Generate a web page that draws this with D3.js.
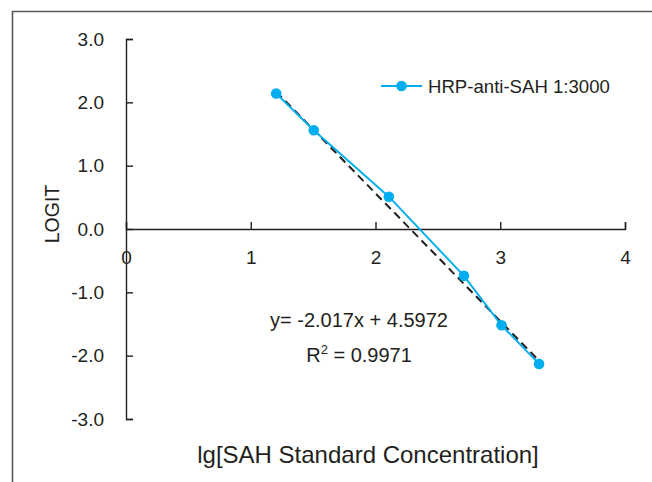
<!DOCTYPE html>
<html>
<head>
<meta charset="utf-8">
<script src="https://cdn.jsdelivr.net/npm/d3@7"></script>
<style>
  body { margin: 0; background: #fff; }
  svg { display: block; font-family: "Liberation Sans", Arial, sans-serif; }
  .axis path, .axis line { stroke: #231f20; stroke-width: 1.4; }
  .axis text { fill: #231f20; font-size: 19px; }
</style>
</head>
<body>
<div id="chart"></div>
<script>
// lg of concentration and logit values
var lgConc = [1.204, 1.505, 2.107, 2.709, 3.010, 3.311];
var logit = [2.14, 1.56, 0.51, -0.74, -1.52, -2.13];
var seriesName = "HRP-anti-SAH 1:3000";
var xTicks = [0, 1, 2, 3, 4];
var yTicks = [3, 2, 1, 0, -1, -2, -3];
var slope = -2.017;
var intercept = 4.5972;
var eqText = "y= -2.017x + 4.5972";
var r2Text = "0.9971";

var width = 652;
var height = 482;
var blue = "#00aeef";
var ink = "#231f20";

var svg = d3.select("#chart").append("svg")
  .attr("width", width)
  .attr("height", height);

// outer frame (only left and top visible)
svg.append("path")
  .attr("d", "M12.5," + height + "V11.5H" + width)
  .attr("fill", "none")
  .attr("stroke", "#58595b")
  .attr("stroke-width", 1.6);

var x = d3.scaleLinear().domain([0, 4]).range([126, 625]);
var y = d3.scaleLinear().domain([-3, 3]).range([419, 39]);

// plain hyphen for negatives, like the original
var fmt1 = function(d) { return d3.format(".1f")(d).replace("\u2212", "-"); };

var yAxis = d3.axisLeft(y)
  .tickValues(yTicks)
  .tickSize(-7)
  .tickPadding(22)
  .tickFormat(fmt1);

svg.append("g")
  .attr("class", "axis y-axis")
  .attr("transform", "translate(" + x(0) + ",0)")
  .call(yAxis);

var xAxis = d3.axisBottom(x)
  .tickValues(xTicks)
  .tickSize(-7)
  .tickPadding(22)
  .tickFormat(d3.format("d"));

svg.append("g")
  .attr("class", "axis x-axis")
  .attr("transform", "translate(0," + y(0) + ")")
  .call(xAxis);

// trendline
var xr = d3.extent(lgConc);
svg.append("line")
  .attr("x1", x(xr[0])).attr("y1", y(slope * xr[0] + intercept))
  .attr("x2", x(xr[1])).attr("y2", y(slope * xr[1] + intercept))
  .attr("stroke", ink)
  .attr("stroke-width", 2)
  .attr("stroke-dasharray", "8,5");

var data = lgConc.map(function(d, i) { return {x: d, y: logit[i]}; });

var line = d3.line()
  .x(function(d) { return x(d.x); })
  .y(function(d) { return y(d.y); });

svg.append("path")
  .datum(data)
  .attr("d", line)
  .attr("fill", "none")
  .attr("stroke", blue)
  .attr("stroke-width", 1.9);

svg.selectAll(".pt")
  .data(data)
  .enter().append("circle")
  .attr("class", "pt")
  .attr("cx", function(d) { return x(d.x); })
  .attr("cy", function(d) { return y(d.y); })
  .attr("r", 5.3)
  .attr("fill", blue);

// legend
var legend = svg.append("g").attr("transform", "translate(381,86)");
legend.append("line")
  .attr("x1", 0).attr("x2", 41)
  .attr("stroke", blue).attr("stroke-width", 1.9);
legend.append("circle")
  .attr("cx", 20.5).attr("r", 5.3).attr("fill", blue);
legend.append("text")
  .attr("x", 47).attr("dy", "0.35em")
  .attr("fill", ink)
  .style("font-size", "18.6px")
  .text(seriesName);

// equation
svg.append("text")
  .attr("x", 359).attr("y", 327)
  .attr("text-anchor", "middle")
  .attr("fill", ink)
  .style("font-size", "20px")
  .text(eqText);

var r2 = svg.append("text")
  .attr("x", 359).attr("y", 362)
  .attr("text-anchor", "middle")
  .attr("fill", ink)
  .style("font-size", "20px");
r2.append("tspan").text("R");
r2.append("tspan").attr("dy", -8).style("font-size", "13px").text("2");
r2.append("tspan").attr("dy", 8).text(" = " + r2Text);

// axis titles
svg.append("text")
  .attr("transform", "translate(52,214) rotate(-90)")
  .attr("text-anchor", "middle")
  .attr("dy", "0.35em")
  .attr("fill", ink)
  .style("font-size", "19.5px")
  .text("LOGIT");

svg.append("text")
  .attr("x", 368).attr("y", 463)
  .attr("text-anchor", "middle")
  .attr("fill", ink)
  .style("font-size", "24px")
  .text("lg[SAH Standard Concentration]");
</script>
</body>
</html>
